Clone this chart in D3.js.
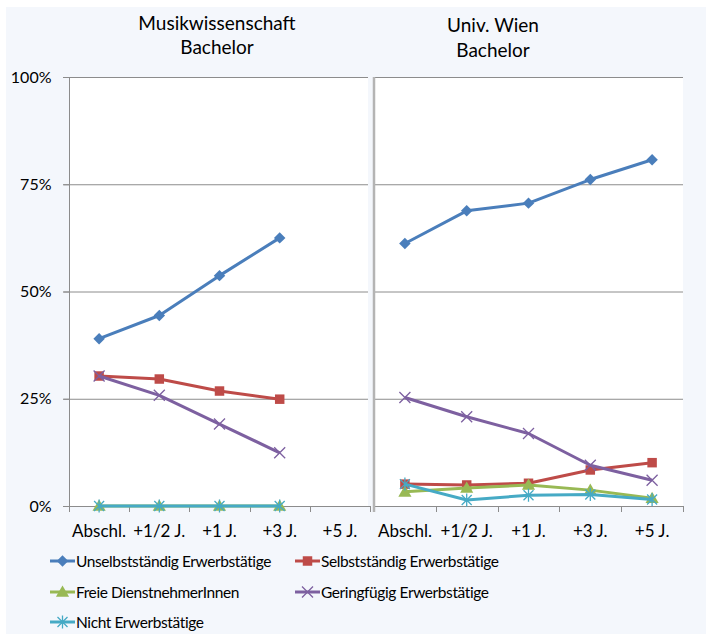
<!DOCTYPE html>
<html>
<head>
<meta charset="utf-8">
<script src="https://cdn.jsdelivr.net/npm/d3@7"></script>
<style>
body{margin:0;background:#fff;}
text{font-family:Lato,"Open Sans",sans-serif;fill:#000;}
</style>
</head>
<body>
<svg class="chart" width="706" height="634"></svg>
<script>
var categories = ["Abschl.", "+1/2 J.", "+1 J.", "+3 J.", "+5 J."];
var seriesNames = ["Unselbstständig Erwerbstätige", "Selbstständig Erwerbstätige", "Freie DienstnehmerInnen", "Geringfügig Erwerbstätige", "Nicht Erwerbstätige"];
var seriesColors = ["#4A7EBB", "#BE4B48", "#98B954", "#7D60A0", "#46AAC5"];
var seriesMarkers = ["diamond", "square", "triangle", "x", "star"];
var yTicks = [0, 25, 50, 75, 100];

// Musikwissenschaft Bachelor (no +5 J. value)
var musikUnselbst = [39.0, 44.4, 53.7, 62.5, null];
var musikSelbst = [30.3, 29.6, 26.8, 24.9, null];
var musikFreie = [0, 0, 0, 0, null];
var musikGering = [30.3, 25.8, 19.1, 12.4, null];
var musikNicht = [0, 0, 0, 0, null];

// Univ. Wien Bachelor
var wienUnselbst = [61.2, 68.8, 70.6, 76.1, 80.7];
var wienSelbst = [5.1, 4.9, 5.3, 8.4, 10.1];
var wienFreie = [3.3, 4.2, 4.9, 3.7, 1.8];
var wienGering = [25.3, 20.8, 16.9, 9.5, 6.0];
var wienNicht = [5.1, 1.4, 2.5, 2.7, 1.5];

var panels = [
    {title:["Musikwissenschaft", "Bachelor"], tx:217, ty:[30, 54], x0:69, x1:370, yLabels:true,
     series:[musikUnselbst, musikSelbst, musikFreie, musikGering, musikNicht]},
    {title:["Univ. Wien", "Bachelor"], tx:493, ty:[32, 57], x0:374, x1:683, yLabels:false,
     series:[wienUnselbst, wienSelbst, wienFreie, wienGering, wienNicht]}
];

var svg = d3.select("svg.chart");
var y = d3.scaleLinear().domain([0, 100]).range([506, 77]);

svg.append("rect").attr("x", 6).attr("y", 7).attr("width", 700).attr("height", 627).attr("fill", "#F4F7FC");

function drawMarker(g, type, color){
    if(type == "diamond"){
        g.append("path").attr("d", d3.symbol().type(d3.symbolSquare).size(66)()).attr("transform", "rotate(45)").attr("fill", color);
    }else if(type == "square"){
        g.append("path").attr("d", d3.symbol().type(d3.symbolSquare).size(90)()).attr("fill", color);
    }else if(type == "triangle"){
        g.append("path").attr("d", d3.symbol().type(d3.symbolTriangle).size(75)()).attr("transform", "translate(0,1)").attr("fill", color);
    }else if(type == "x"){
        g.append("path").attr("d", "M-5.5,-5.5L5.5,5.5M-5.5,5.5L5.5,-5.5").attr("stroke", color).attr("stroke-width", 1.3).attr("fill", "none");
    }else{
        g.append("path").attr("d", "M-5,-5L5,5M-5,5L5,-5M0,-6.5L0,6.5").attr("stroke", color).attr("stroke-width", 1.3).attr("fill", "none");
    }
}

panels.forEach(function(p){
    var x = d3.scaleBand().domain(categories).range([p.x0, p.x1]);
    var g = svg.append("g");

    g.append("rect").attr("x", p.x0).attr("y", y(100)).attr("width", p.x1 - p.x0 - (p.yLabels ? 2 : 0)).attr("height", y(0) - y(100)).attr("fill", "#fff");

    g.selectAll("line.grid")
        .data(yTicks.slice(1))
        .enter().append("line")
        .attr("class", "grid")
        .attr("x1", p.yLabels ? p.x0 - 6 : p.x0)
        .attr("x2", p.x1 - (p.yLabels ? 2 : 0))
        .attr("y1", function(d){return y(d) + 0.5;})
        .attr("y2", function(d){return y(d) + 0.5;})
        .attr("stroke", "#8C8C8C")
        .attr("stroke-width", 1);

    // x axis
    var xa = g.append("g").attr("transform", "translate(0," + (y(0) + 0.5) + ")")
        .call(d3.axisBottom(x).tickSize(0));
    xa.select(".domain").attr("d", "M" + (p.yLabels ? p.x0 - 6 : p.x0) + ",0H" + p.x1).attr("stroke", "#8C8C8C");
    xa.selectAll("text").attr("y", 30).attr("dy", null).attr("font-size", "17px").attr("fill", "#000");
    g.selectAll("line.xtick")
        .data(d3.range(categories.length + 1))
        .enter().append("line")
        .attr("class", "xtick")
        .attr("x1", function(d){return Math.round(p.x0 + d * x.step()) + 0.5;})
        .attr("x2", function(d){return Math.round(p.x0 + d * x.step()) + 0.5;})
        .attr("y1", y(0))
        .attr("y2", y(0) + 6)
        .attr("stroke", "#8C8C8C");

    // y axis
    if(p.yLabels){
        var ya = g.append("g").attr("transform", "translate(" + (p.x0 + 0.5) + ",0)")
            .call(d3.axisLeft(y).tickValues(yTicks).tickSize(6).tickPadding(12).tickFormat(function(d){return d + "%";}));
        ya.select(".domain").attr("d", "M0," + y(100) + "V" + y(0)).attr("stroke", "#8C8C8C");
        ya.selectAll(".tick line").attr("stroke", "#8C8C8C");
        ya.selectAll("text").attr("font-size", "16px").attr("fill", "#000");
    }else{
        g.append("line").attr("x1", p.x0).attr("x2", p.x0).attr("y1", y(100)).attr("y2", y(0) + 6)
            .attr("stroke", "#B4B4B4").attr("stroke-width", 2.5);
    }

    g.selectAll("text.title")
        .data(p.title)
        .enter().append("text")
        .attr("class", "title")
        .attr("x", p.tx)
        .attr("y", function(d,i){return p.ty[i];})
        .attr("text-anchor", "middle")
        .attr("font-size", "19px")
        .text(function(d){return d;});

    var line = d3.line()
        .defined(function(d){return d != null;})
        .x(function(d,i){return x(categories[i]) + x.bandwidth()/2;})
        .y(function(d){return y(d);});

    p.series.forEach(function(vals, s){
        g.append("path")
            .attr("d", line(vals))
            .attr("fill", "none")
            .attr("stroke", seriesColors[s])
            .attr("stroke-width", 3)
            .attr("stroke-linejoin", "round");
        vals.forEach(function(v, i){
            if(v == null) return;
            var m = g.append("g").attr("transform", "translate(" + (x(categories[i]) + x.bandwidth()/2) + "," + y(v) + ")");
            drawMarker(m, seriesMarkers[s], seriesColors[s]);
        });
    });
});

// legend
var legendPos = [[50, 561], [295, 561], [50, 592], [295, 592], [50, 622]];
seriesNames.forEach(function(name, s){
    var lg = svg.append("g").attr("transform", "translate(" + legendPos[s][0] + "," + legendPos[s][1] + ")");
    lg.append("line").attr("x1", 0).attr("x2", 25).attr("y1", 0).attr("y2", 0)
        .attr("stroke", seriesColors[s]).attr("stroke-width", 3);
    drawMarker(lg.append("g").attr("transform", "translate(12.5,0)"), seriesMarkers[s], seriesColors[s]);
    lg.append("text").attr("x", 26).attr("y", 5.5).attr("font-size", "15.5px")
        .attr("letter-spacing", "-0.4px").text(name);
});
</script>
</body>
</html>
